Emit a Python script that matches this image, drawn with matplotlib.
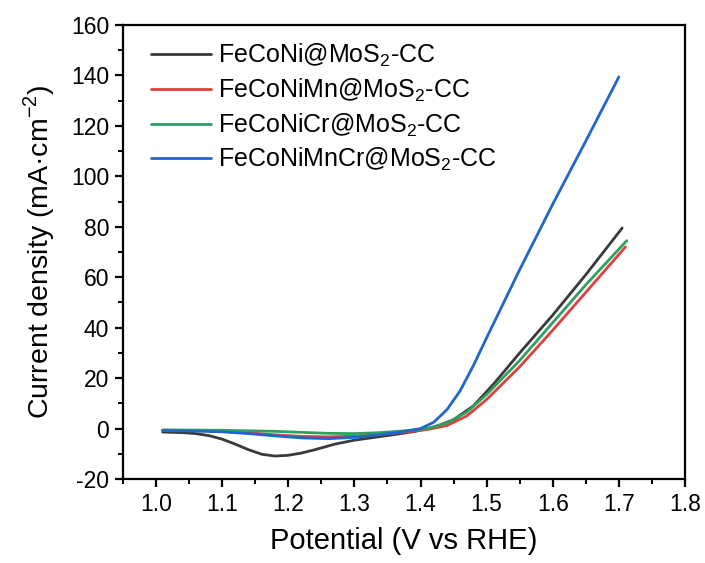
import matplotlib
matplotlib.use("Agg")
import matplotlib.pyplot as plt
from matplotlib.ticker import MultipleLocator

plt.rcParams['font.family'] = ['Liberation Sans', 'DejaVu Sans']
plt.rcParams['mathtext.fontset'] = 'custom'
plt.rcParams['mathtext.rm'] = 'Liberation Sans'
plt.rcParams['axes.unicode_minus'] = False

labels = ["FeCoNi@MoS$_2$-CC", "FeCoNiMn@MoS$_2$-CC",
          "FeCoNiCr@MoS$_2$-CC", "FeCoNiMnCr@MoS$_2$-CC"]
colors = ["#3a3a3a", "#e0403c", "#2ea062", "#1f66d0"]

v_black = [1.01, 1.04, 1.06, 1.08, 1.10, 1.12, 1.14, 1.16, 1.18, 1.20, 1.22, 1.24,
           1.27, 1.30, 1.33, 1.36, 1.39, 1.42, 1.45, 1.48, 1.51, 1.55, 1.60, 1.65, 1.705]
j_black = [-1.4, -1.6, -2.0, -2.8, -4.2, -6.2, -8.4, -10.2, -10.9, -10.6, -9.7, -8.4,
           -6.2, -4.6, -3.5, -2.4, -1.2, 0.5, 3.5, 9.0, 17.5, 30.0, 45.0, 61.0, 79.5]

v_red = [1.01, 1.06, 1.10, 1.14, 1.18, 1.22, 1.26, 1.30, 1.34, 1.38, 1.41, 1.44,
         1.47, 1.50, 1.55, 1.60, 1.65, 1.71]
j_red = [-0.6, -0.8, -1.1, -1.7, -2.5, -3.1, -3.3, -3.0, -2.3, -1.3, -0.4, 1.2,
         5.0, 11.5, 24.5, 39.0, 54.0, 72.0]

v_green = [1.01, 1.06, 1.10, 1.14, 1.18, 1.22, 1.26, 1.30, 1.34, 1.38, 1.41, 1.44,
           1.47, 1.50, 1.55, 1.60, 1.65, 1.712]
j_green = [-0.6, -0.6, -0.7, -0.9, -1.1, -1.5, -1.9, -2.0, -1.6, -0.8, 0.0, 2.2,
           6.5, 13.5, 27.0, 42.0, 57.0, 74.5]

v_blue = [1.01, 1.06, 1.10, 1.14, 1.18, 1.22, 1.26, 1.30, 1.34, 1.37, 1.40, 1.42,
          1.44, 1.46, 1.48, 1.50, 1.55, 1.60, 1.65, 1.70]
j_blue = [-0.8, -1.0, -1.3, -2.0, -2.9, -3.7, -4.0, -3.5, -2.4, -1.4, 0.0, 2.5,
          7.5, 15.0, 25.0, 36.0, 63.0, 89.0, 114.0, 139.4]

xs = [v_black, v_red, v_green, v_blue]
ys = [j_black, j_red, j_green, j_blue]

fig = plt.figure(figsize=(7.05, 5.63), dpi=100)
ax = fig.add_axes([0.1745, 0.1492, 0.7971, 0.8064])

for x, y, c, lab in zip(xs, ys, colors, labels):
    ax.plot(x, y, color=c, lw=2.0, label=lab, solid_capstyle='round',
            solid_joinstyle='round')

ax.set_xlim(0.95, 1.8)
ax.set_ylim(-20, 160)
ax.xaxis.set_minor_locator(MultipleLocator(0.05))
ax.yaxis.set_major_locator(MultipleLocator(20))
ax.yaxis.set_minor_locator(MultipleLocator(10))
ax.set_xticks([1.0, 1.1, 1.2, 1.3, 1.4, 1.5, 1.6, 1.7, 1.8])
ax.set_xticklabels(["1.0", "1.1", "1.2", "1.3", "1.4", "1.5", "1.6", "1.7", "1.8"])

for s in ax.spines.values():
    s.set_linewidth(1.6)
ax.tick_params(which='major', direction='out', length=6, width=1.6, labelsize=16.5, pad=4)
ax.tick_params(which='minor', direction='out', length=3.5, width=1.4)
ax.tick_params(top=False, right=False)

ax.set_xlabel("Potential (V vs RHE)", fontsize=21, labelpad=8)
ax.set_ylabel("Current density (mA·cm$^{-2}$)", fontsize=20.5, labelpad=10)

leg = ax.legend(loc='upper left', frameon=False, fontsize=18, handlelength=2.4,
                handletextpad=0.3, labelspacing=0.3, borderaxespad=0.8,
                borderpad=0.3, bbox_to_anchor=(0.0, 1.023))
for line in leg.get_lines():
    line.set_linewidth(2.0)

fig.savefig("out.png", dpi=100)
